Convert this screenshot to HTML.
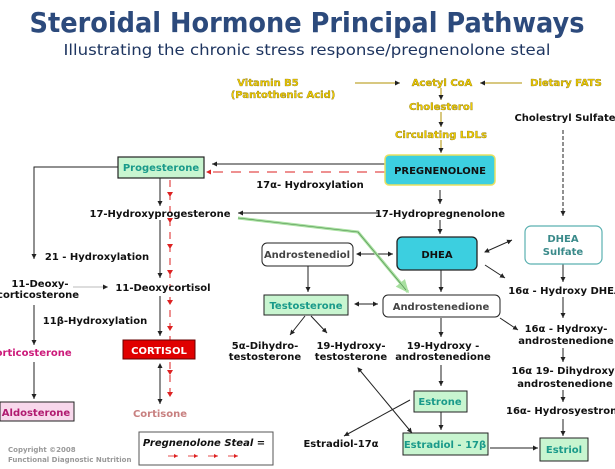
<!DOCTYPE html>
<html><head><meta charset="utf-8"><style>
html,body{margin:0;padding:0;background:#fff;}
svg{display:block;font-family:"DejaVu Sans","Liberation Sans",sans-serif;}
.b{font-weight:bold;font-size:10px;fill:#111;}
.y{font-weight:bold;font-size:10px;fill:#f0cc00;stroke:#6b5a00;stroke-width:0.3;}
</style></head><body>
<svg width="615" height="469" viewBox="0 0 615 469" xmlns="http://www.w3.org/2000/svg">
<defs>
<marker id="a" markerWidth="6" markerHeight="6" refX="5" refY="3" orient="auto"><path d="M0,0.5 L5,3 L0,5.5z" fill="#222"/></marker>
<marker id="s" markerWidth="6" markerHeight="6" refX="1" refY="3" orient="auto"><path d="M5,0.5 L0,3 L5,5.5z" fill="#222"/></marker>
<marker id="r" markerWidth="6" markerHeight="6" refX="5" refY="3" orient="auto"><path d="M0,0.5 L5,3 L0,5.5z" fill="#d22"/></marker>
<marker id="g" markerWidth="5" markerHeight="5" refX="4" refY="2.5" orient="auto"><path d="M0,0.5 L4.5,2.5 L0,4.5z" fill="#a8e0a0"/></marker>
</defs>
<text x="307" y="32" text-anchor="middle" font-size="28" font-weight="bold" fill="#2c4a7c" textLength="555" lengthAdjust="spacingAndGlyphs">Steroidal Hormone Principal Pathways</text>
<text x="307" y="55" text-anchor="middle" font-size="15" fill="#1e3560" textLength="487" lengthAdjust="spacingAndGlyphs">Illustrating the chronic stress response/pregnenolone steal</text>

<g stroke="#222" stroke-width="1" fill="none">
<line x1="355" y1="83" x2="400" y2="83" stroke="#b09000" marker-end="url(#a)"/>
<line x1="522" y1="83" x2="480" y2="83" stroke="#b09000" marker-end="url(#a)"/>
<line x1="441" y1="88" x2="441" y2="100" stroke="#b09000" marker-end="url(#a)"/>
<line x1="441" y1="112" x2="441" y2="127" stroke="#b09000" marker-end="url(#a)"/>
<line x1="441" y1="140" x2="441" y2="153" stroke="#b09000" marker-end="url(#a)"/>
<line x1="563" y1="130" x2="563" y2="216" stroke-dasharray="4,2" marker-end="url(#a)"/>
<line x1="385" y1="164" x2="212" y2="164" marker-end="url(#a)"/>
<line x1="440" y1="190" x2="440" y2="204" marker-end="url(#a)"/>
<line x1="378" y1="213" x2="238" y2="213" marker-end="url(#a)"/>
<line x1="440" y1="220" x2="440" y2="234" marker-end="url(#a)"/>
<polyline points="118,167 34,167 34,259" marker-end="url(#a)"/>
<line x1="34" y1="305" x2="34" y2="345" marker-end="url(#a)"/>
<line x1="34" y1="362" x2="34" y2="399" marker-end="url(#a)"/>
<line x1="73" y1="287" x2="108" y2="287" stroke="#bbb" marker-end="url(#a)"/>
<line x1="160" y1="178" x2="160" y2="206" marker-end="url(#a)"/>
<line x1="160" y1="220" x2="160" y2="278" marker-end="url(#a)"/>
<line x1="160" y1="296" x2="160" y2="336" marker-end="url(#a)"/>
<line x1="160" y1="364" x2="160" y2="404" marker-start="url(#s)" marker-end="url(#a)"/>
<line x1="357" y1="254" x2="393" y2="254" marker-start="url(#s)" marker-end="url(#a)"/>
<line x1="485" y1="252" x2="512" y2="240" marker-start="url(#s)" marker-end="url(#a)"/>
<line x1="485" y1="265" x2="505" y2="278" marker-end="url(#a)"/>
<line x1="308" y1="266" x2="308" y2="292" marker-end="url(#a)"/>
<line x1="441" y1="270" x2="441" y2="292" marker-end="url(#a)"/>
<line x1="355" y1="304" x2="378" y2="304" marker-start="url(#s)" marker-end="url(#a)"/>
<line x1="500" y1="318" x2="518" y2="330" marker-end="url(#a)"/>
<line x1="305" y1="316" x2="290" y2="335" marker-end="url(#a)"/>
<line x1="311" y1="316" x2="327" y2="333" marker-end="url(#a)"/>
<line x1="441" y1="318" x2="441" y2="337" marker-end="url(#a)"/>
<line x1="441" y1="365" x2="441" y2="386" marker-end="url(#a)"/>
<line x1="441" y1="412" x2="441" y2="430" marker-end="url(#a)"/>
<line x1="410" y1="400" x2="344" y2="436" marker-end="url(#a)"/>
<line x1="358" y1="368" x2="412" y2="433" marker-start="url(#s)" marker-end="url(#a)"/>
<line x1="490" y1="448" x2="538" y2="448" marker-end="url(#a)"/>
<line x1="563" y1="264" x2="563" y2="282" marker-end="url(#a)"/>
<line x1="563" y1="297" x2="563" y2="318" marker-end="url(#a)"/>
<line x1="563" y1="348" x2="563" y2="362" marker-end="url(#a)"/>
<line x1="563" y1="390" x2="563" y2="402" marker-end="url(#a)"/>
<line x1="563" y1="419" x2="563" y2="436" marker-end="url(#a)"/>
</g>
<polyline points="238,218 358,232 408,292" fill="none" stroke="#a8e0a0" stroke-width="3" marker-end="url(#g)"/>
<polyline points="238,218 358,232 406,290" fill="none" stroke="#4a8a4a" stroke-width="0.6"/>
<g stroke="#d22" stroke-width="1" fill="none">
<line x1="385" y1="172" x2="206" y2="172" stroke-dasharray="10,8" marker-end="url(#r)"/>
<line x1="170" y1="180" x2="170" y2="400" stroke-dasharray="7,6"/>
</g>
<g fill="#d22">
<path d="M167,192 L173,192 L170,197z"/><path d="M167,218 L173,218 L170,223z"/><path d="M167,244 L173,244 L170,249z"/><path d="M167,270 L173,270 L170,275z"/><path d="M167,300 L173,300 L170,305z"/><path d="M167,326 L173,326 L170,331z"/><path d="M167,370 L173,370 L170,375z"/><path d="M167,392 L173,392 L170,397z"/>
</g>

<text class="y" x="268" y="86" text-anchor="middle">Vitamin B5</text>
<text class="y" x="283" y="98" text-anchor="middle">(Pantothenic Acid)</text>
<text class="y" x="442" y="86" text-anchor="middle">Acetyl CoA</text>
<text class="y" x="566" y="86" text-anchor="middle">Dietary FATS</text>
<text class="y" x="441" y="110" text-anchor="middle">Cholesterol</text>
<text class="y" x="441" y="138" text-anchor="middle">Circulating LDLs</text>
<text class="b" x="565" y="121" text-anchor="middle">Cholestryl Sulfate</text>

<rect x="385" y="155" width="110" height="30" rx="4" fill="#3ccfe0" stroke="#e8e060" stroke-width="1.5"/>
<text class="b" x="440" y="174" text-anchor="middle" font-size="10">PREGNENOLONE</text>
<rect x="118" y="157" width="86" height="21" fill="#c8f5d0" stroke="#222" stroke-width="1.2"/>
<text x="161" y="171" text-anchor="middle" font-size="10" font-weight="bold" fill="#1a9a8a">Progesterone</text>
<rect x="397" y="237" width="80" height="33" rx="5" fill="#3ccfe0" stroke="#222" stroke-width="1.3"/>
<text class="b" x="437" y="258" text-anchor="middle">DHEA</text>
<rect x="262" y="243" width="91" height="23" rx="5" fill="#fff" stroke="#222"/>
<text x="307" y="258" text-anchor="middle" font-size="10" font-weight="bold" fill="#444">Androstenediol</text>
<rect x="525" y="226" width="77" height="38" rx="6" fill="#fff" stroke="#5ab0b0" stroke-width="1.2"/>
<text x="563" y="242" text-anchor="middle" font-size="10" font-weight="bold" fill="#3a8a8a">DHEA</text>
<text x="563" y="255" text-anchor="middle" font-size="10" font-weight="bold" fill="#3a8a8a">Sulfate</text>
<rect x="264" y="295" width="84" height="20" fill="#c8f5d0" stroke="#222"/>
<text x="306" y="309" text-anchor="middle" font-size="10" font-weight="bold" fill="#1a9a8a">Testosterone</text>
<rect x="383" y="295" width="117" height="22" rx="5" fill="#fff" stroke="#222"/>
<text x="441" y="310" text-anchor="middle" font-size="10" font-weight="bold" fill="#444">Androstenedione</text>
<rect x="414" y="391" width="53" height="21" fill="#c8f5d0" stroke="#222"/>
<text x="440" y="405" text-anchor="middle" font-size="10" font-weight="bold" fill="#1a9a8a">Estrone</text>
<rect x="403" y="433" width="85" height="22" fill="#c8f5d0" stroke="#222"/>
<text x="445" y="448" text-anchor="middle" font-size="10" font-weight="bold" fill="#1a9a8a">Estradiol - 17β</text>
<rect x="540" y="438" width="48" height="23" fill="#c8f5d0" stroke="#222"/>
<text x="564" y="453" text-anchor="middle" font-size="10" font-weight="bold" fill="#1a9a8a">Estriol</text>
<rect x="123" y="340" width="72" height="19" fill="#e00000" stroke="#600" />
<text x="159" y="354" text-anchor="middle" font-size="10" font-weight="bold" fill="#fff">CORTISOL</text>
<rect x="0" y="402" width="74" height="19" fill="#f8d8ec" stroke="#222"/>
<text x="36" y="416" text-anchor="middle" font-size="10" font-weight="bold" fill="#b01a70">Aldosterone</text>
<rect x="139" y="432" width="134" height="33" fill="#fff" stroke="#555"/>
<text x="204" y="446" text-anchor="middle" font-size="10" font-weight="bold" font-style="italic" fill="#111">Pregnenolone Steal =</text>
<g stroke="#d22" fill="none" stroke-width="0.8"><line x1="168" y1="456" x2="178" y2="456" marker-end="url(#r)"/><line x1="188" y1="456" x2="198" y2="456" marker-end="url(#r)"/><line x1="208" y1="456" x2="218" y2="456" marker-end="url(#r)"/><line x1="228" y1="456" x2="238" y2="456" marker-end="url(#r)"/></g>

<text class="b" x="310" y="188" text-anchor="middle">17α- Hydroxylation</text>
<text class="b" x="160" y="217" text-anchor="middle">17-Hydroxyprogesterone</text>
<text class="b" x="440" y="217" text-anchor="middle">17-Hydropregnenolone</text>
<text class="b" x="97" y="260" text-anchor="middle">21 - Hydroxylation</text>
<text class="b" x="40" y="287" text-anchor="middle">11-Deoxy-</text>
<text class="b" x="38" y="298" text-anchor="middle">corticosterone</text>
<text class="b" x="163" y="291" text-anchor="middle">11-Deoxycortisol</text>
<text class="b" x="95" y="324" text-anchor="middle">11β-Hydroxylation</text>
<text x="30" y="356" text-anchor="middle" font-size="10" font-weight="bold" fill="#cc1a7a">Corticosterone</text>
<text x="160" y="417" text-anchor="middle" font-size="10" font-weight="bold" fill="#c88080">Cortisone</text>
<text class="b" x="565" y="294" text-anchor="middle">16α - Hydroxy DHEA</text>
<text class="b" x="566" y="332" text-anchor="middle">16α - Hydroxy-</text>
<text class="b" x="566" y="344" text-anchor="middle">androstenedione</text>
<text class="b" x="565" y="374" text-anchor="middle">16α 19- Dihydroxy-</text>
<text class="b" x="565" y="387" text-anchor="middle">androstenedione</text>
<text class="b" x="565" y="414" text-anchor="middle">16α- Hydrosyestrone</text>
<text class="b" x="265" y="349" text-anchor="middle">5α-Dihydro-</text>
<text class="b" x="265" y="360" text-anchor="middle">testosterone</text>
<text class="b" x="351" y="349" text-anchor="middle">19-Hydroxy-</text>
<text class="b" x="351" y="360" text-anchor="middle">testosterone</text>
<text class="b" x="443" y="349" text-anchor="middle">19-Hydroxy -</text>
<text class="b" x="443" y="360" text-anchor="middle">androstenedione</text>
<text class="b" x="341" y="447" text-anchor="middle">Estradiol-17α</text>
<text x="8" y="452" font-size="7" font-weight="bold" fill="#999">Copyright ©2008</text>
<text x="8" y="462" font-size="7" font-weight="bold" fill="#999">Functional Diagnostic Nutrition</text>
</svg>
</body></html>
